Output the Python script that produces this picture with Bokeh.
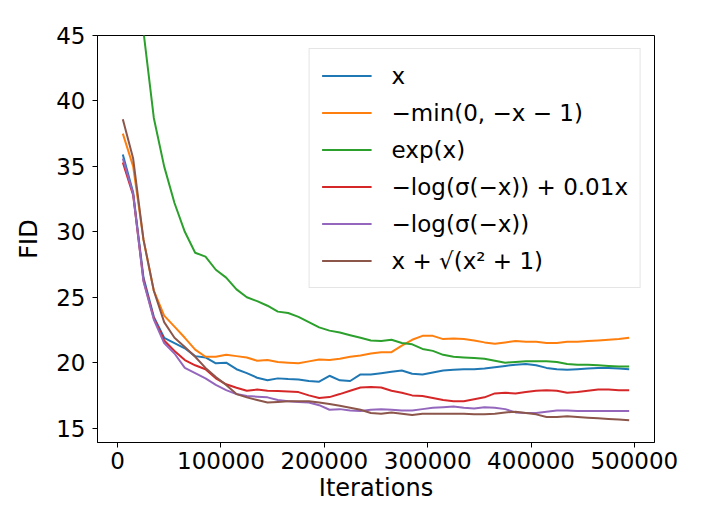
from bokeh.plotting import figure
from bokeh.models import FixedTicker, Range1d, Legend, LegendItem
from bokeh.embed import file_html
from bokeh.resources import INLINE

iterations = [5000, 15000, 25000, 35000, 45000, 55000, 65000, 75000, 85000, 95000,
              105000, 115000, 125000, 135000, 145000, 155000, 165000, 175000, 185000, 195000,
              205000, 215000, 225000, 235000, 245000, 255000, 265000, 275000, 285000, 295000,
              305000, 315000, 325000, 335000, 345000, 355000, 365000, 375000, 385000, 395000,
              405000, 415000, 425000, 435000, 445000, 455000, 465000, 475000, 485000, 495000]

fid_x = [35.9, 33.0, 26.5, 23.5, 21.9, 21.5, 21.1, 20.5, 20.4, 19.95,
         20.0, 19.5, 19.2, 18.85, 18.65, 18.8, 18.75, 18.72, 18.6, 18.55,
         19.0, 18.65, 18.6, 19.1, 19.1, 19.2, 19.3, 19.4, 19.15, 19.1,
         19.25, 19.4, 19.45, 19.5, 19.5, 19.55, 19.65, 19.75, 19.85, 19.9,
         19.8, 19.6, 19.5, 19.45, 19.5, 19.55, 19.6, 19.6, 19.55, 19.5]

fid_min = [37.5, 35.0, 29.4, 25.5, 23.6, 22.75, 21.9, 21.0, 20.45, 20.45,
           20.6, 20.5, 20.4, 20.15, 20.2, 20.05, 20.0, 19.95, 20.1, 20.25,
           20.2, 20.3, 20.45, 20.55, 20.7, 20.8, 20.8, 21.3, 21.75, 22.05,
           22.05, 21.8, 21.85, 21.8, 21.7, 21.55, 21.45, 21.55, 21.65, 21.6,
           21.6, 21.5, 21.5, 21.6, 21.6, 21.65, 21.7, 21.75, 21.8, 21.9]

fid_exp = [68.0, 54.0, 45.3, 38.7, 35.0, 32.2, 30.0, 28.4, 28.1, 27.1,
           26.5, 25.6, 25.0, 24.7, 24.35, 23.9, 23.8, 23.5, 23.1, 22.7,
           22.45, 22.3, 22.1, 21.9, 21.7, 21.65, 21.75, 21.5, 21.4, 21.05,
           20.9, 20.6, 20.45, 20.4, 20.35, 20.3, 20.15, 20.0, 20.05, 20.1,
           20.1, 20.1, 20.05, 19.9, 19.85, 19.85, 19.8, 19.75, 19.7, 19.7]

fid_logsig_lin = [35.3, 32.8, 26.3, 23.4, 21.7, 20.9, 20.2, 19.8, 19.5, 18.8,
                  18.35, 18.08, 17.85, 17.95, 17.85, 17.83, 17.8, 17.75, 17.5, 17.3,
                  17.37, 17.6, 17.85, 18.1, 18.15, 18.1, 17.85, 17.7, 17.5, 17.45,
                  17.3, 17.15, 17.05, 17.05, 17.2, 17.35, 17.65, 17.7, 17.65, 17.75,
                  17.85, 17.9, 17.85, 17.7, 17.75, 17.85, 17.95, 17.95, 17.9, 17.9]

fid_logsig = [35.6, 32.9, 26.2, 23.3, 21.5, 20.7, 19.6, 19.2, 18.8, 18.3,
              17.9, 17.6, 17.45, 17.4, 17.35, 17.15, 17.05, 17.0, 16.95, 16.75,
              16.4, 16.45, 16.35, 16.3, 16.4, 16.45, 16.4, 16.35, 16.35, 16.45,
              16.55, 16.6, 16.65, 16.55, 16.5, 16.6, 16.55, 16.45, 16.2, 16.15,
              16.15, 16.25, 16.35, 16.35, 16.3, 16.3, 16.3, 16.3, 16.3, 16.3]

fid_sqrt = [38.6, 35.6, 29.4, 25.5, 23.1, 21.9, 21.2, 20.45, 19.6, 18.9,
            18.3, 17.6, 17.35, 17.15, 16.95, 17.0, 17.05, 17.05, 17.05, 16.95,
            16.85, 16.7, 16.55, 16.4, 16.15, 16.1, 16.2, 16.1, 16.0, 16.1,
            16.1, 16.1, 16.1, 16.1, 16.05, 16.05, 16.1, 16.2, 16.25, 16.15,
            16.05, 15.85, 15.85, 15.9, 15.85, 15.8, 15.75, 15.7, 15.65, 15.6]

series_labels = ["x", "\u2212min(0, \u2212x \u2212 1)", "exp(x)",
                 "\u2212log(\u03c3(\u2212x)) + 0.01x", "\u2212log(\u03c3(\u2212x))",
                 "x + \u221a(x\u00b2 + 1)"]
series_values = [fid_x, fid_min, fid_exp, fid_logsig_lin, fid_logsig, fid_sqrt]
colors = ["#1f77b4", "#ff7f0e", "#2ca02c", "#d62728", "#9467bd", "#8c564b"]

x_ticks = [0, 100000, 200000, 300000, 400000, 500000]
x_tick_labels = ["0", "100000", "200000", "300000", "400000", "500000"]
y_ticks = [15, 20, 25, 30, 35, 40, 45]
y_tick_labels = ["15", "20", "25", "30", "35", "40", "45"]

FONT = "DejaVu Sans"

p = figure(width=700, height=520, output_backend="svg", toolbar_location=None,
           x_range=Range1d(-19500, 519500), y_range=Range1d(13.9, 45),
           min_border_left=97, min_border_right=46, min_border_top=35, min_border_bottom=78)

items = []
for lab, vals, col in zip(series_labels, series_values, colors):
    r = p.line(iterations, vals, line_color=col, line_width=2)
    items.append(LegendItem(label=lab, renderers=[r]))

p.xgrid.visible = False
p.ygrid.visible = False
p.outline_line_color = "black"
p.outline_line_width = 1

for ax, ticks, labels in [(p.xaxis[0], x_ticks, x_tick_labels), (p.yaxis[0], y_ticks, y_tick_labels)]:
    ax.ticker = FixedTicker(ticks=ticks)
    ax.major_label_overrides = {t: l for t, l in zip(ticks, labels)}
    ax.minor_tick_line_color = None
    ax.major_tick_in = 0
    ax.major_tick_out = 5
    ax.major_tick_line_color = "black"
    ax.axis_line_color = "black"
    ax.major_label_text_font = FONT
    ax.major_label_text_font_size = "23px"
    ax.major_label_text_color = "black"
    ax.axis_label_text_font = FONT
    ax.axis_label_text_font_size = "24px"
    ax.axis_label_text_font_style = "normal"
    ax.axis_label_text_color = "black"

p.xaxis.axis_label = "Iterations"
p.yaxis.axis_label = "FID"
p.xaxis.major_label_standoff = 4
p.yaxis.major_label_standoff = 7
p.xaxis.axis_label_standoff = 2
p.yaxis.axis_label_standoff = 10

legend = Legend(items=items, location="top_right")
legend.label_text_font = FONT
legend.label_text_font_size = "23px"
legend.label_text_color = "black"
legend.glyph_width = 50
legend.glyph_height = 29
legend.label_height = 29
legend.label_standoff = 20
legend.spacing = 8
legend.padding = 12
legend.margin = 13
legend.border_line_color = "#cccccc"
legend.border_line_width = 1
legend.background_fill_alpha = 0.8
p.add_layout(legend)

open("out.html", "w").write(file_html(p, INLINE))
